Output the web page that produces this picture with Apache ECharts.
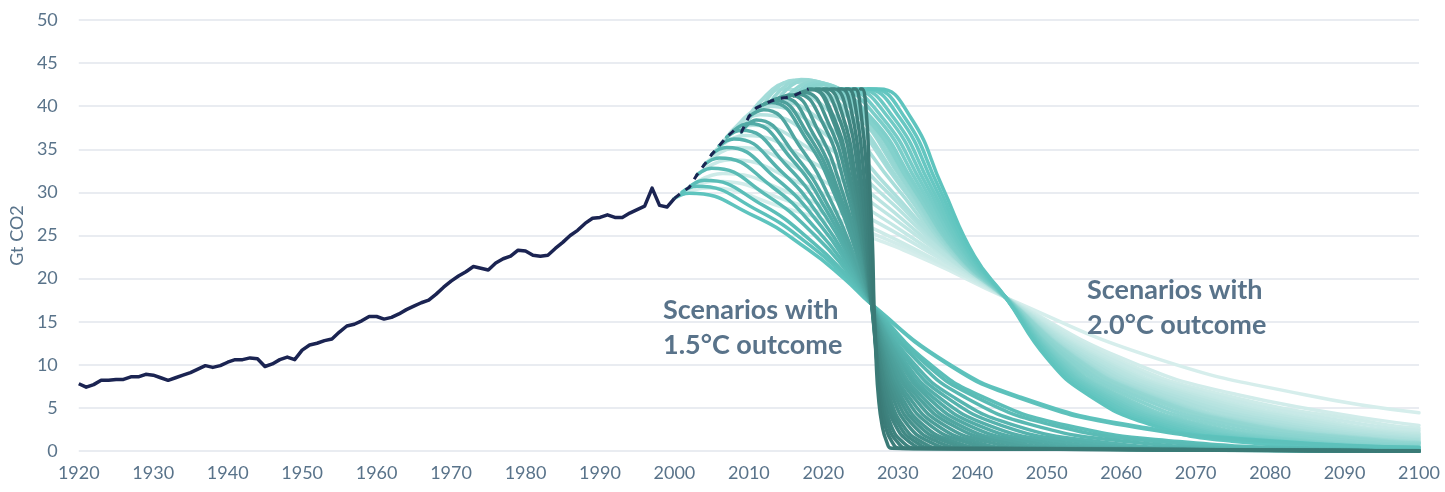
<!DOCTYPE html>
<html>
<head>
<meta charset="utf-8">
<script src="https://cdn.jsdelivr.net/npm/echarts@6/dist/echarts.min.js"></script>
<style>
html, body { margin: 0; padding: 0; background: #ffffff; }
#chart { width: 1445px; height: 492px; }
</style>
</head>
<body>
<div id="chart"></div>
<script>
// Historical CO2 emissions (Gt CO2), 1920-2000, solid line
const histYears = [1920,1921,1922,1923,1924,1925,1926,1927,1928,1929,1930,1931,1932,1933,1934,1935,1936,1937,1938,1939,
  1940,1941,1942,1943,1944,1945,1946,1947,1948,1949,1950,1951,1952,1953,1954,1955,1956,1957,1958,1959,
  1960,1961,1962,1963,1964,1965,1966,1967,1968,1969,1970,1971,1972,1973,1974,1975,1976,1977,1978,1979,
  1980,1981,1982,1983,1984,1985,1986,1987,1988,1989,1990,1991,1992,1993,1994,1995,1996,1997,1998,1999,2000];
const histValues = [7.8,7.4,7.7,8.2,8.2,8.3,8.3,8.6,8.6,8.9,8.8,8.5,8.2,8.5,8.8,9.1,9.5,9.9,9.7,9.9,
  10.3,10.6,10.6,10.8,10.7,9.8,10.1,10.6,10.9,10.6,11.7,12.3,12.5,12.8,13.0,13.8,14.5,14.7,15.1,15.6,
  15.6,15.3,15.5,15.9,16.4,16.8,17.2,17.5,18.2,19.0,19.7,20.3,20.8,21.4,21.2,21.0,21.8,22.3,22.6,23.3,
  23.2,22.7,22.6,22.7,23.5,24.2,25.0,25.6,26.4,27.0,27.1,27.4,27.1,27.1,27.6,28.0,28.4,30.5,28.5,28.3,29.3];

// Recent emissions 2000-2018, dashed line
const recentYears = [2000,2001,2002,2003,2004,2005,2006,2007,2008,2009,2010,2011,2012,2013,2014,2015,2016,2017,2018];
const recentValues = [29.3,30.0,30.6,32.0,33.2,34.4,35.4,36.4,37.2,37.0,38.8,39.8,40.2,40.6,40.9,41.0,41.2,41.6,42.0];

// Axis ticks
const xTicks = { min: 1920, max: 2100, step: 10 };
const yTicks = { min: 0, max: 50, step: 5 };

// Scenarios with 1.5°C outcome, one curve per start year: [year, Gt CO2]
const c15_2000 = [[2000,29.3],[2002,29.9],[2010.6,27.3],[2017.9,23.4],[2022.8,20.0],[2026.5,17],[2036.5,10.3],[2046.5,6.25],[2061.5,2.95],[2081.5,1.09],[2100,0.43]];
const c15_2001 = [[2001,30.0],[2003,30.7],[2011.2,27.9],[2018.3,23.8],[2023.0,20.2],[2026.5,17],[2036.3,10.3],[2046,6.25],[2060.6,2.95],[2080.1,1.09],[2100,0.39]];
const c15_2002 = [[2002,30.6],[2004,31.4],[2011.9,28.5],[2018.6,24.2],[2023.1,20.4],[2026.5,17],[2034,10.3],[2041.5,6.25],[2052.8,2.95],[2067.8,1.09],[2086.5,0.31],[2100,0.13]];
const c15_2003 = [[2003,32.0],[2005,32.8],[2012.5,29.6],[2019.0,24.9],[2023.3,20.7],[2026.5,17],[2033.5,10.3],[2040.5,6.25],[2051,2.95],[2065,1.09],[2082.5,0.31],[2100,0.09]];
const c15_2004 = [[2004,33.2],[2006,34.0],[2013.2,30.6],[2019.3,25.5],[2023.4,21.0],[2026.5,17],[2032.8,10.3],[2039,6.25],[2048.4,2.95],[2060.9,1.09],[2076.5,0.31],[2100,0.05]];
const c15_2005 = [[2005,34.4],[2007,35.2],[2013.8,31.5],[2019.7,26.1],[2023.6,21.2],[2026.5,17],[2032,10.3],[2037.5,6.25],[2045.8,2.95],[2056.8,1.09],[2070.5,0.31],[2100,0.02]];
const c15_2006 = [[2006,35.4],[2008,36.2],[2014.5,32.3],[2020.0,26.6],[2023.7,21.5],[2026.5,17],[2031.5,10.3],[2036.5,6.25],[2044,2.95],[2054,1.09],[2066.5,0.31],[2100,0.01]];
const c15_2007 = [[2007,36.4],[2009,37.2],[2015.1,33.1],[2020.4,27.1],[2023.9,21.7],[2026.5,17],[2031,10.3],[2035.5,6.25],[2042.3,2.95],[2051.3,1.09],[2062.5,0.31],[2100,0]];
const c15_2008 = [[2008,37.2],[2010,38.0],[2015.8,33.8],[2020.7,27.5],[2024.0,21.9],[2026.5,17],[2030.6,10.3],[2034.7,6.25],[2040.9,2.95],[2049.1,1.09],[2059.3,0.31],[2100,0]];
const c15_2009 = [[2009,37.0],[2011,38.4],[2016.4,34.1],[2021.1,27.7],[2024.2,22.0],[2026.5,17],[2030.3,10.3],[2034,6.25],[2039.6,2.95],[2047.1,1.09],[2056.5,0.31],[2100,0]];
const c15_2010 = [[2010,38.8],[2012,39.6],[2017.1,35.0],[2021.4,28.3],[2024.3,22.3],[2026.5,17],[2029.9,10.3],[2033.3,6.25],[2038.4,2.95],[2045.2,1.09],[2053.7,0.31],[2100,0]];
const c15_2011 = [[2011,39.8],[2013,40.4],[2017.7,36.2],[2021.8,29.2],[2024.5,22.8],[2026.5,17],[2029.6,10.3],[2032.7,6.25],[2037.4,2.95],[2043.6,1.09],[2051.3,0.31],[2100,0]];
const c15_2012 = [[2012,40.2],[2013.5,40.7],[2018.1,36.5],[2022.0,29.4],[2024.6,22.8],[2026.5,17],[2029.3,10.3],[2032.1,6.25],[2036.3,2.95],[2041.9,1.09],[2048.9,0.31],[2100,0]];
const c15_2013 = [[2013,40.6],[2014.5,41.0],[2018.7,36.7],[2022.3,29.5],[2024.7,22.9],[2026.5,17],[2029,10.3],[2031.5,6.25],[2035.3,2.95],[2040.3,1.09],[2046.5,0.31],[2100,0]];
const c15_2014 = [[2014,40.9],[2015.5,41.3],[2019.4,37.0],[2022.7,29.7],[2024.9,23.0],[2026.5,17],[2028.8,10.3],[2031,6.25],[2034.4,2.95],[2038.9,1.09],[2044.5,0.31],[2100,0]];
const c15_2015 = [[2015,41.0],[2016.5,41.4],[2020.0,37.9],[2023.0,30.5],[2025.0,23.5],[2026.5,17],[2028.5,10.3],[2030.5,6.25],[2033.5,2.95],[2037.5,1.09],[2042.5,0.31],[2100,0]];
const c15_2016 = [[2016,41.2],[2017.5,41.6],[2020.7,38.0],[2023.4,30.7],[2025.2,23.5],[2026.5,17],[2028.3,10.3],[2030.1,6.25],[2032.8,2.95],[2036.4,1.09],[2040.9,0.31],[2100,0]];
const c15_2017 = [[2017,41.6],[2018.5,41.9],[2021.3,38.3],[2023.7,30.8],[2025.3,23.6],[2026.5,17],[2028.1,10.3],[2029.7,6.25],[2032.1,2.95],[2035.3,1.09],[2039.3,0.31],[2100,0]];
const c15_2018 = [[2018,42],[2018.5,42],[2021.3,38.9],[2023.7,31.4],[2025.3,23.9],[2026.5,17],[2027.9,10.3],[2029.3,6.25],[2031.4,2.95],[2034.2,1.09],[2037.7,0.31],[2100,0]];
const c15_2019 = [[2019,42],[2019.5,42],[2022.0,38.9],[2024.1,31.4],[2025.5,23.9],[2026.5,17],[2027.7,10.3],[2028.9,6.25],[2030.7,2.95],[2033.1,1.09],[2036.1,0.31],[2100,0]];
const c15_2020 = [[2020,42],[2020.5,42],[2022.6,38.9],[2024.4,31.4],[2025.6,23.9],[2026.5,17],[2027.6,10.3],[2028.6,6.25],[2030.2,2.95],[2032.3,1.09],[2034.9,0.31],[2100,0]];
const c15_2021 = [[2021,42],[2021.5,42],[2023.3,38.9],[2024.8,31.4],[2025.8,23.9],[2026.5,17],[2027.4,10.3],[2028.3,6.25],[2029.7,2.95],[2031.5,1.09],[2033.7,0.31],[2100,0]];
const c15_2022 = [[2022,42],[2022.5,42],[2023.9,38.9],[2025.1,31.4],[2025.9,23.9],[2026.5,17],[2027.3,10.3],[2028,6.25],[2029.1,2.95],[2030.6,1.09],[2032.5,0.31],[2100,0]];
const c15_2023 = [[2023,42],[2023.4,42],[2024.5,38.9],[2025.5,31.4],[2026.1,23.9],[2026.6,17],[2027.2,10.3],[2027.8,6.25],[2028.7,2.95],[2029.9,1.09],[2031.4,0.31],[2100,0]];
const c15_2024 = [[2024,42],[2024.3,42],[2025.1,38.9],[2025.9,31.4],[2026.3,23.9],[2026.7,17],[2027.2,10.3],[2027.6,6.25],[2028.3,2.95],[2029.2,1.09],[2030.3,0.31],[2100,0]];
const c15_2025 = [[2025,42],[2025.2,42],[2025.8,38.9],[2026.2,31.4],[2026.6,23.9],[2026.8,17],[2027.1,10.3],[2027.4,6.25],[2027.9,2.95],[2028.5,1.09],[2029.2,0.31],[2100,0]];

// Scenarios with 2.0°C outcome, one curve per start year: [year, Gt CO2]
const c20_2000 = [[2000,29.3],[2004.5,30.5],[2014.5,28.3],[2024.5,25.4],[2034.5,21.9],[2044.5,17.8],[2064.5,10.8],[2084.5,6.55],[2100,4.44]];
const c20_2001 = [[2001,30.0],[2005.5,31.3],[2015.3,29.0],[2025,25.8],[2034.8,22.1],[2044.5,17.8],[2060,10.8],[2075.5,6.55],[2100,2.97]];
const c20_2002 = [[2002,30.6],[2006.5,32.2],[2016,29.8],[2025.5,26.3],[2035,22.2],[2044.5,17.8],[2059,10.8],[2073.5,6.55],[2095.3,3.09],[2100,2.63]];
const c20_2003 = [[2003,32.0],[2007.5,33.8],[2016.8,31.1],[2026,27.1],[2035.3,22.5],[2044.5,17.8],[2058.3,10.8],[2072,6.55],[2092.6,3.09],[2100,2.37]];
const c20_2004 = [[2004,33.2],[2008.5,35.2],[2017.5,32.4],[2026.5,27.8],[2035.5,22.7],[2044.5,17.8],[2057.5,10.8],[2070.5,6.55],[2090,3.09],[2100,2.10]];
const c20_2005 = [[2005,34.4],[2009.5,36.6],[2018.3,33.6],[2027,28.5],[2035.8,22.9],[2044.5,17.8],[2057,10.8],[2069.5,6.55],[2088.3,3.09],[2100,1.93]];
const c20_2006 = [[2006,35.4],[2010.5,37.8],[2019,34.6],[2027.5,29.1],[2036,23.0],[2044.5,17.8],[2056.5,10.8],[2068.5,6.55],[2086.5,3.09],[2100,1.76]];
const c20_2007 = [[2007,36.4],[2011.5,39.0],[2019.8,35.7],[2028,29.7],[2036.3,23.1],[2044.5,17.8],[2056,10.8],[2067.5,6.55],[2084.8,3.09],[2100,1.59]];
const c20_2008 = [[2008,37.2],[2012.5,40.0],[2020.5,36.6],[2028.5,30.1],[2036.5,23.2],[2044.5,17.8],[2055.5,10.8],[2066.5,6.55],[2083,3.09],[2100,1.43]];
const c20_2009 = [[2009,37.0],[2013.5,40.6],[2021.3,37.2],[2029,30.3],[2036.8,23.1],[2044.5,17.8],[2055,10.8],[2065.5,6.55],[2081.3,3.09],[2100,1.27]];
const c20_2010 = [[2010,38.8],[2014.5,42.0],[2022,38.5],[2029.5,30.9],[2037,23.1],[2044.5,17.8],[2054.5,10.8],[2064.5,6.55],[2079.5,3.09],[2100,1.11]];
const c20_2011 = [[2011,39.8],[2015.5,42.8],[2022.8,39.2],[2030,31.2],[2037.3,23.1],[2044.5,17.8],[2054.3,10.8],[2064,6.55],[2078.6,3.09],[2100,1.03]];
const c20_2012 = [[2012,40.2],[2016,43.0],[2023.1,39.5],[2030.3,31.2],[2037.4,22.8],[2044.5,17.8],[2054,10.8],[2063.5,6.55],[2077.8,3.09],[2096.8,1.14],[2100,0.96]];
const c20_2013 = [[2013,40.6],[2017,43.1],[2023.9,39.6],[2030.8,31.2],[2037.6,22.9],[2044.5,17.8],[2053.9,10.8],[2063.2,6.55],[2077.2,3.09],[2095.9,1.14],[2100,0.92]];
const c20_2014 = [[2014,40.9],[2017.5,43.0],[2024.3,39.5],[2031,31.2],[2037.8,22.8],[2044.5,17.8],[2053.8,10.8],[2063,6.55],[2076.9,3.09],[2095.4,1.14],[2100,0.89]];
const c20_2015 = [[2015,41.0],[2018.5,42.8],[2025,39.3],[2031.5,31.1],[2038,22.8],[2044.5,17.8],[2053.5,10.8],[2062.5,6.55],[2076,3.09],[2094,1.14],[2100,0.82]];
const c20_2016 = [[2016,41.2],[2019,42.7],[2025.4,39.2],[2031.8,31.0],[2038.1,22.8],[2044.5,17.8],[2053,10.8],[2061.5,6.55],[2074.3,3.09],[2091.3,1.14],[2100,0.68]];
const c20_2017 = [[2017,41.6],[2019.5,42.5],[2025.8,39.0],[2032,30.9],[2038.3,22.7],[2044.5,17.8],[2052.5,10.8],[2060.5,6.55],[2072.5,3.09],[2088.5,1.14],[2100,0.55]];
const c20_2018 = [[2018,42],[2019.5,42],[2025.8,38.6],[2032,30.6],[2038.3,22.6],[2044.5,17.8],[2052,10.8],[2059.5,6.55],[2070.8,3.09],[2085.8,1.14],[2100,0.44]];
const c20_2019 = [[2019,42],[2020.5,42],[2026.5,38.6],[2032.5,30.6],[2038.5,22.6],[2044.5,17.8],[2051.8,10.8],[2059,6.55],[2069.9,3.09],[2084.4,1.14],[2100,0.39]];
const c20_2020 = [[2020,42],[2021.5,42],[2027.3,38.6],[2033,30.6],[2038.8,22.6],[2044.5,17.8],[2051.5,10.8],[2058.5,6.55],[2069,3.09],[2083,1.14],[2100,0.34]];
const c20_2021 = [[2021,42],[2022.5,42],[2028,38.6],[2033.5,30.6],[2039,22.6],[2044.5,17.8],[2051.3,10.8],[2058,6.55],[2068.1,3.09],[2081.6,1.14],[2100,0.29]];
const c20_2022 = [[2022,42],[2023.5,42],[2028.8,38.6],[2034,30.6],[2039.3,22.6],[2044.5,17.8],[2051,10.8],[2057.5,6.55],[2067.3,3.09],[2080.3,1.14],[2100,0.25]];
const c20_2023 = [[2023,42],[2024.5,42],[2029.5,38.6],[2034.5,30.6],[2039.5,22.6],[2044.5,17.8],[2050.8,10.8],[2057,6.55],[2066.4,3.09],[2078.9,1.14],[2100,0.21]];
const c20_2024 = [[2024,42],[2025.5,42],[2030.3,38.6],[2035,30.6],[2039.8,22.6],[2044.5,17.8],[2050.5,10.8],[2056.5,6.55],[2065.5,3.09],[2077.5,1.14],[2100,0.17]];
const c20_2025 = [[2025,42],[2026.5,42],[2031,38.6],[2035.5,30.6],[2040,22.6],[2044.5,17.8],[2050.3,10.8],[2056,6.55],[2064.6,3.09],[2076.1,1.14],[2100,0.14]];
const c20_2026 = [[2026,42],[2027.5,42],[2031.8,38.6],[2036,30.6],[2040.3,22.6],[2044.5,17.8],[2050,10.8],[2055.5,6.55],[2063.8,3.09],[2074.8,1.14],[2100,0.11]];

const set15 = [c15_2000,c15_2001,c15_2002,c15_2003,c15_2004,c15_2005,c15_2006,c15_2007,c15_2008,c15_2009,
  c15_2010,c15_2011,c15_2012,c15_2013,c15_2014,c15_2015,c15_2016,c15_2017,c15_2018,c15_2019,
  c15_2020,c15_2021,c15_2022,c15_2023,c15_2024,c15_2025];
const set20 = [c20_2000,c20_2001,c20_2002,c20_2003,c20_2004,c20_2005,c20_2006,c20_2007,c20_2008,c20_2009,
  c20_2010,c20_2011,c20_2012,c20_2013,c20_2014,c20_2015,c20_2016,c20_2017,c20_2018,c20_2019,
  c20_2020,c20_2021,c20_2022,c20_2023,c20_2024,c20_2025,c20_2026];

// Colour ramps: early start years light, later ones stronger
function mix(a, b, t) {
  const r = Math.round(a[0] + (b[0] - a[0]) * t);
  const g = Math.round(a[1] + (b[1] - a[1]) * t);
  const bl = Math.round(a[2] + (b[2] - a[2]) * t);
  return 'rgb(' + r + ',' + g + ',' + bl + ')';
}
const PALE = [214, 238, 236];
const TEAL = [94, 196, 190];
const DARK = [58, 122, 118];
const NAVY = '#1b2452';
const TEXT = '#59738a';

const series = [];
set20.forEach(function (d, i) {
  series.push({
    type: 'line', data: d, smooth: 0.5, showSymbol: false, silent: true, clip: false,
    lineStyle: { width: 3.5, color: mix(PALE, TEAL, i / (set20.length - 1)), cap: 'round' }
  });
});
set15.forEach(function (d, i) {
  series.push({
    type: 'line', data: d, smooth: 0.5, showSymbol: false, silent: true, clip: false,
    lineStyle: { width: 3.5, color: mix(TEAL, DARK, i / (set15.length - 1)), cap: 'round' }
  });
});
series.push({
  type: 'line', data: recentYears.map(function (y, i) { return [y, recentValues[i]]; }),
  showSymbol: false, silent: true,
  lineStyle: { width: 3, color: NAVY, type: [7, 7] }
});
series.push({
  type: 'line', data: histYears.map(function (y, i) { return [y, histValues[i]]; }),
  showSymbol: false, silent: true,
  lineStyle: { width: 3.5, color: NAVY, join: 'round' }
});

const chart = echarts.init(document.getElementById('chart'), null, { renderer: 'canvas' });
chart.setOption({
  animation: false,
  backgroundColor: '#ffffff',
  textStyle: { fontFamily: 'Lato, sans-serif' },
  grid: { left: 78, right: 26, top: 20, bottom: 41 },
  xAxis: {
    type: 'value', min: xTicks.min, max: xTicks.max, interval: xTicks.step,
    axisLine: { show: false }, axisTick: { show: false }, splitLine: { show: false },
    axisLabel: { color: TEXT, fontSize: 18, margin: 13, fontFamily: 'Lato',
      formatter: function (v) { return String(v); } }
  },
  yAxis: {
    type: 'value', min: yTicks.min, max: yTicks.max, interval: yTicks.step,
    name: 'Gt CO2', nameLocation: 'middle', nameGap: 50, nameRotate: 90,
    nameTextStyle: { color: TEXT, fontSize: 18, fontFamily: 'Lato' },
    axisLine: { show: false }, axisTick: { show: false },
    splitLine: { lineStyle: { color: '#e2e6ec', width: 1.5 } },
    axisLabel: { color: TEXT, fontSize: 18, margin: 21, fontFamily: 'Lato' }
  },
  graphic: [
    { type: 'text', left: 663, top: 293, z: 100, silent: true,
      style: { text: 'Scenarios with\n1.5°C outcome', fill: TEXT, font: 'bold 27px Lato', lineHeight: 35 } },
    { type: 'text', left: 1087, top: 273, z: 100, silent: true,
      style: { text: 'Scenarios with\n2.0°C outcome', fill: TEXT, font: 'bold 27px Lato', lineHeight: 35 } }
  ],
  series: series
});
</script>
</body>
</html>
